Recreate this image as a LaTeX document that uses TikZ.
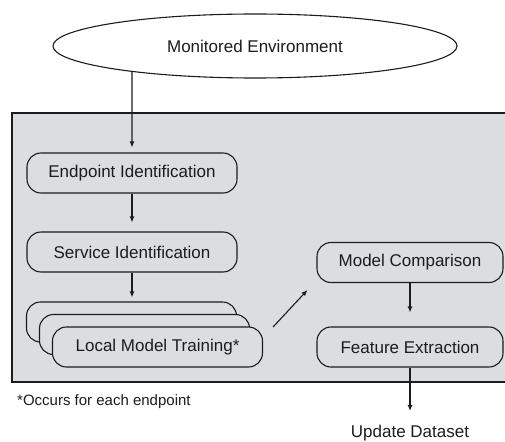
\documentclass[tikz,border=0pt]{standalone}
\usepackage{fontspec}
\setmainfont{Liberation Sans}
\usetikzlibrary{shapes.geometric,arrows.meta,calc,intersections}
\definecolor{panelgray}{RGB}{220,221,223}
\definecolor{ink}{RGB}{28,28,28}
\begin{document}
\begin{tikzpicture}[x=1pt,y=-1pt,
  every node/.style={font=\fontsize{17}{20}\selectfont, text=ink},
  stage/.style={draw=ink, line width=1.1pt, rounded corners=14pt,
    minimum width=210pt, minimum height=40pt, fill=panelgray, inner sep=0pt},
  wide/.style={stage, minimum width=186pt},
  flow/.style={draw=ink, line width=1.1pt, -{Latex[length=6pt,width=5pt]}},
]
\useasboundingbox (0,0) rectangle (505,441);

% shaded processing panel
\filldraw[fill=panelgray, draw=ink, line width=1.1pt] (12,113) rectangle (520,382);

% source
\node[ellipse, draw=ink, line width=1.1pt, fill=white, minimum width=404pt,
  minimum height=64pt, inner sep=0pt, name path=envpath] (env) at (255,46)
  {Monitored Environment};

% left column
\node[stage] (ei) at (132,173) {Endpoint Identification};
\node[stage] (si) at (132,252) {Service Identification};
\node[stage] (lmtA) at (131.5,322) {};
\node[stage] (lmtB) at (144.5,334.5) {};
\node[stage] (lmt) at (157.5,347) {Local Model Training*};

% right column
\node[wide] (mc) at (410,262.5) {Model Comparison};
\node[wide] (fe) at (410,347) {Feature Extraction};

% outputs and note
\node[anchor=base, inner sep=0pt] (upd) at (410,437) {Update Dataset};
\node[anchor=base west, inner sep=0pt, font=\fontsize{15}{18}\selectfont]
  (note) at (17,405) {*Occurs for each endpoint};

% connectors
\path[name path=drop] (ei.north) -- ++(0,-120);
\draw[flow, shorten >=5pt, name intersections={of=envpath and drop}]
  (intersection-1) -- (ei.north);
\draw[flow, shorten >=9pt] (ei.south) -- (si.north);
\draw[flow, shorten >=4pt] (si.south) -- (si.south |- lmtA.north);
\coordinate (d1) at ($(lmt.east)+(10,-20)$);
\coordinate (d2) at ($(mc.west)+(-9,27.5)$);
\draw[flow] (d1) -- (d2);
\draw[flow, shorten >=14pt] (mc.south -| upd.north) -- (fe.north -| upd.north);
\draw[flow, shorten >=13.5pt] (fe.south -| upd.north) -- (upd.north);
\end{tikzpicture}
\end{document}
